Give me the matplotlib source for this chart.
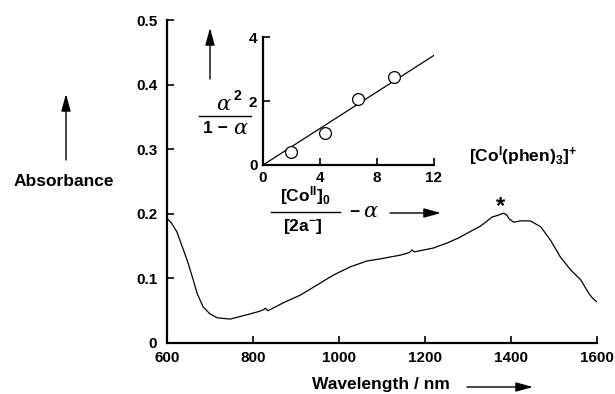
import matplotlib
matplotlib.use("Agg")
import matplotlib.pyplot as plt
from matplotlib.lines import Line2D
import matplotlib.patches as mpatches

plt.rcParams['font.family'] = ['Liberation Sans', 'DejaVu Sans']
plt.rcParams['mathtext.fontset'] = 'custom'
plt.rcParams['mathtext.rm'] = 'Liberation Sans:bold'
plt.rcParams['mathtext.bf'] = 'Liberation Sans:bold'
plt.rcParams['mathtext.it'] = 'Liberation Sans:bold'

# Main spectrum (wavelength nm, absorbance)
wavelength = [600, 610, 623, 635, 647, 660, 670, 684, 700, 717, 747, 770, 793, 815, 826, 829, 835,
              850, 870, 910, 950, 987, 1027, 1066, 1103, 1143, 1160, 1166, 1170, 1176, 1190,
              1220, 1253, 1280, 1299, 1330, 1357, 1372, 1383, 1390, 1397, 1407, 1423, 1446,
              1470, 1493, 1516, 1540, 1563, 1582, 1590, 1600]
absorbance = [0.193, 0.186, 0.172, 0.150, 0.128, 0.100, 0.077, 0.056, 0.045, 0.039, 0.037, 0.041, 0.045,
              0.049, 0.052, 0.054, 0.050, 0.055, 0.062, 0.074, 0.090, 0.105, 0.118, 0.127, 0.131,
              0.136, 0.139, 0.141, 0.144, 0.141, 0.143, 0.147, 0.155, 0.163, 0.170, 0.181, 0.195,
              0.198, 0.201, 0.199, 0.192, 0.187, 0.189, 0.189, 0.180, 0.159, 0.133, 0.113, 0.098,
              0.077, 0.070, 0.064]
x_ticks = [600, 800, 1000, 1200, 1400, 1600]
y_ticks = [0, 0.1, 0.2, 0.3, 0.4, 0.5]
y_tick_labels = ['0', '0.1', '0.2', '0.3', '0.4', '0.5']

# Inset data
inset_x = [1.96, 4.35, 6.7, 9.17]
inset_y = [0.42, 0.99, 2.08, 2.75]
fit_x = [0, 12]
fit_y = [0, 3.44]
inset_xticks = [0, 4, 8, 12]
inset_yticks = [0, 2, 4]

TICK_FS = 11
LABEL_FS = 12.5

fig = plt.figure(figsize=(6.15, 3.94), dpi=100)

ax = fig.add_axes([167/615, 1 - 343/394, (596.5 - 167)/615, (343 - 20)/394])
ax.plot(wavelength, absorbance, color='black', lw=0.9)
ax.set_xlim(600, 1600)
ax.set_ylim(0, 0.5)
ax.set_xticks(x_ticks)
ax.set_yticks(y_ticks)
ax.set_yticklabels(y_tick_labels)
for s in ['top', 'right']:
    ax.spines[s].set_visible(False)
for s in ['left', 'bottom']:
    ax.spines[s].set_linewidth(1.6)
ax.tick_params(direction='in', length=5, width=1.2, labelsize=TICK_FS)
ax.tick_params(axis='x', pad=6)
ax.tick_params(axis='y', pad=7)
for lab in ax.get_xticklabels() + ax.get_yticklabels():
    lab.set_fontweight('bold')

# Inset
ins = fig.add_axes([263/615, 1 - 165/394, (434 - 263)/615, (165 - 37.5)/394])
ins.plot(fit_x, fit_y, color='black', lw=0.9)
ins.plot(inset_x, inset_y, 'o', mfc='white', mec='black', ms=8.5, mew=0.9)
ins.set_xlim(0, 12)
ins.set_ylim(0, 4)
ins.set_xticks(inset_xticks)
ins.set_yticks(inset_yticks)
for s in ['top', 'right']:
    ins.spines[s].set_visible(False)
for s in ['left', 'bottom']:
    ins.spines[s].set_linewidth(1.6)
ins.tick_params(direction='in', length=5, width=1.2, labelsize=TICK_FS, pad=4)
for lab in ins.get_xticklabels() + ins.get_yticklabels():
    lab.set_fontweight('bold')


def fx(px):
    return px / 615


def fy(py):
    return 1 - py / 394


def arrow(x0, y0, x1, y1):
    fig.add_artist(mpatches.FancyArrowPatch(
        (fx(x0), fy(y0)), (fx(x1), fy(y1)), transform=fig.transFigure,
        arrowstyle='-|>,head_length=0.8,head_width=0.22', color='black', lw=1.0,
        mutation_scale=13, shrinkA=0, shrinkB=0))


# Absorbance label + arrow
fig.text(fx(64), fy(182), 'Absorbance', fontsize=LABEL_FS, fontweight='bold', ha='center', va='center')
arrow(66, 160, 66, 94)

# Wavelength label + arrow
fig.text(fx(381), fy(385), 'Wavelength / nm', fontsize=LABEL_FS, fontweight='bold', ha='center', va='center')
arrow(467, 387, 533, 387)

# Complex label and asterisk
fig.text(fx(523), fy(156), r'[Co$^{\mathrm{I}}$(phen)$_{3}$]$^{+}$', fontsize=LABEL_FS, fontweight='bold',
         ha='center', va='center')
fig.text(fx(500), fy(207), '*', fontsize=17, fontweight='bold', ha='center', va='center')

# Inset y label: alpha^2 / (1 - alpha)
fig.text(fx(223), fy(104), 'α', fontsize=15, family='DejaVu Serif', style='italic', ha='center', va='center')
fig.text(fx(237), fy(96), '2', fontsize=10, fontweight='bold', ha='center', va='center')
fig.add_artist(Line2D([fx(199), fx(251)], [fy(116), fy(116)], color='black', lw=1.0, transform=fig.transFigure))
fig.text(fx(215), fy(129), '1 −', fontsize=LABEL_FS, fontweight='bold', ha='center', va='center')
fig.text(fx(240), fy(128), 'α', fontsize=15, family='DejaVu Serif', style='italic', ha='center', va='center')
arrow(210, 79, 210, 28)

# Inset x label: [Co^II]_0/[2a^-] - alpha
fig.text(fx(305), fy(196), r'[Co$^{\mathrm{II}}$]$_{0}$', fontsize=LABEL_FS, fontweight='bold', ha='center', va='center')
fig.add_artist(Line2D([fx(271), fx(340)], [fy(212), fy(212)], color='black', lw=1.0, transform=fig.transFigure))
fig.text(fx(303), fy(226), r'[2a$^{-}$]', fontsize=LABEL_FS, fontweight='bold', ha='center', va='center')
fig.text(fx(354), fy(213), '−', fontsize=LABEL_FS, fontweight='bold', ha='center', va='center')
fig.text(fx(370), fy(212), 'α', fontsize=15, family='DejaVu Serif', style='italic', ha='center', va='center')
arrow(390, 213, 441, 213)

fig.savefig('out.png', dpi=100)
